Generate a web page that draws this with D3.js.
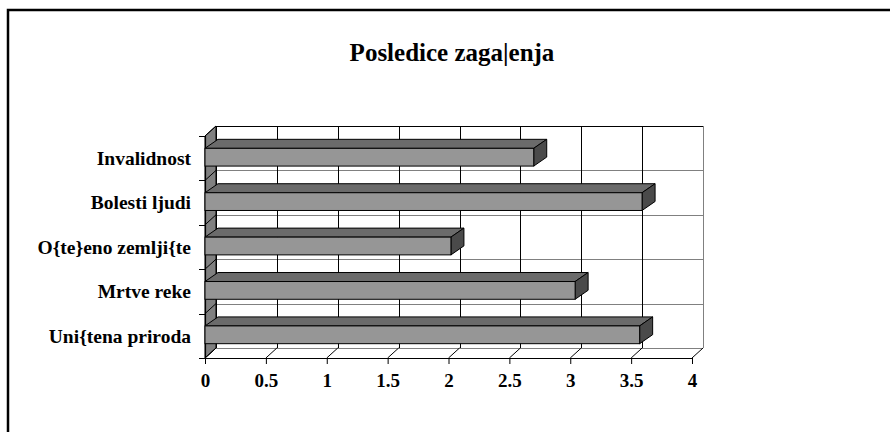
<!DOCTYPE html>
<html><head><meta charset="utf-8">
<script src="https://cdn.jsdelivr.net/npm/d3@7"></script>
<style>
html,body{margin:0;padding:0;background:#fff;}
svg{display:block;}
text{font-family:"Liberation Serif","Times New Roman",serif;font-weight:bold;fill:#000;}
</style></head>
<body>
<script>
const title = "Posledice zaga|enja";
const categories = ["Invalidnost","Bolesti ljudi","O{te}eno zemlji{te","Mrtve reke","Uni{tena priroda"];
const values = [2.7, 3.59, 2.02, 3.04, 3.57];
const xTicks = [0,0.5,1,1.5,2,2.5,3,3.5,4];

const W = 890, H = 432;
const svg = d3.select("body").append("svg").attr("width",W).attr("height",H);

// frame
svg.append("rect").attr("x",8).attr("y",10).attr("width",950).attr("height",600)
  .attr("fill","#fff").attr("stroke","#000").attr("stroke-width",2.5);

// title
svg.append("text").attr("x",452).attr("y",61).attr("text-anchor","middle")
  .style("font-size","25px").text(title);

const x = d3.scaleLinear().domain([0,4]).range([205,692]);
const y = d3.scaleBand().domain(categories).range([136,358]).paddingInner(0).paddingOuter(0);
const wdx = 11, wdy = -10;   // wall depth
const bdx = 13, bdy = -9;    // bar depth
const y0 = 136, y1 = 358;
const bounds = categories.map(c => y(c)).concat([y1]);

const g = svg.append("g");

// back wall
g.append("rect").attr("x",x(0)+wdx).attr("y",y0+wdy).attr("width",x(4)-x(0)).attr("height",y1-y0)
  .attr("fill","#fff").attr("stroke","none");
// horizontal gridlines on back wall
g.selectAll(".hg").data(bounds).join("line")
  .attr("x1",x(0)+wdx).attr("x2",x(4)+wdx)
  .attr("y1",d=>Math.round(d+wdy)+0.5).attr("y2",d=>Math.round(d+wdy)+0.5)
  .attr("stroke",(d,i)=> i===0 ? "#000" : "#808080").attr("stroke-width",1);
// vertical gridlines
g.selectAll(".vg").data(xTicks).join("line")
  .attr("x1",d=>Math.round(x(d)+wdx)+0.5).attr("x2",d=>Math.round(x(d)+wdx)+0.5)
  .attr("y1",y0+wdy).attr("y2",y1+wdy)
  .attr("stroke",(d,i)=> i===xTicks.length-1 ? "#808080" : "#000").attr("stroke-width",1);
// floor diagonals
g.selectAll(".fd").data(xTicks).join("line")
  .attr("x1",d=>x(d)).attr("y1",y1).attr("x2",d=>x(d)+wdx).attr("y2",y1+wdy)
  .attr("stroke","#000").attr("stroke-width",1);
// left wall
g.append("path")
  .attr("d",`M${x(0)},${y0}L${x(0)+wdx},${y0+wdy}L${x(0)+wdx},${y1+wdy}L${x(0)},${y1}Z`)
  .attr("fill","#808080").attr("stroke","#000").attr("stroke-width",1);
g.selectAll(".ld").data(bounds).join("line")
  .attr("x1",x(0)).attr("y1",d=>d).attr("x2",x(0)+wdx).attr("y2",d=>d+wdy)
  .attr("stroke","#000").attr("stroke-width",1);

// axes lines
g.append("line").attr("x1",x(0)).attr("x2",x(4)).attr("y1",y1+0.5).attr("y2",y1+0.5)
  .attr("stroke","#000").attr("stroke-width",1.2);
g.append("line").attr("x1",x(0)+0.5).attr("x2",x(0)+0.5).attr("y1",y0).attr("y2",y1)
  .attr("stroke","#000").attr("stroke-width",1.2);
// left boundary ticks
g.selectAll(".lt").data(bounds).join("line")
  .attr("x1",x(0)-6).attr("x2",x(0)).attr("y1",d=>Math.round(d)+0.5).attr("y2",d=>Math.round(d)+0.5)
  .attr("stroke","#000").attr("stroke-width",1);

// bars
const bh = y.bandwidth()*0.4;
const bars = g.selectAll(".bar").data(categories.map((c,i)=>({c,v:values[i]}))).join("g");
bars.each(function(d){
  const s = d3.select(this);
  const top = y(d.c) + y.bandwidth()/2 - bh/2 - 1;
  const xl = x(0), xr = x(d.v);
  // top face
  s.append("path").attr("d",`M${xl},${top}L${xl+bdx},${top+bdy}L${xr+bdx},${top+bdy}L${xr},${top}Z`)
    .attr("fill","#6b6b6b").attr("stroke","#000").attr("stroke-width",1).attr("stroke-linejoin","round");
  // side face
  s.append("path").attr("d",`M${xr},${top}L${xr+bdx},${top+bdy}L${xr+bdx},${top+bh+bdy}L${xr},${top+bh}Z`)
    .attr("fill","#4a4a4a").attr("stroke","#000").attr("stroke-width",1).attr("stroke-linejoin","round");
  // front face
  s.append("rect").attr("x",xl).attr("y",top).attr("width",xr-xl).attr("height",bh)
    .attr("fill","#969696").attr("stroke","#000").attr("stroke-width",1);
});

// x axis labels
const xAxis = d3.axisBottom(x).tickValues(xTicks).tickSize(6).tickPadding(10)
  .tickFormat(d3.format(""));
const ax = svg.append("g").attr("transform",`translate(0,${y1})`).call(xAxis);
ax.select(".domain").remove();
ax.selectAll("text").style("font-size","19px").style("font-family",'"Liberation Serif","Times New Roman",serif').style("font-weight","bold");

// category labels
svg.selectAll(".cl").data(categories).join("text")
  .attr("x",191).attr("y",d=>y(d)+y.bandwidth()/2)
  .attr("dy","0.35em").attr("text-anchor","end")
  .style("font-size","19.5px").text(d=>d);
</script>
</body></html>
